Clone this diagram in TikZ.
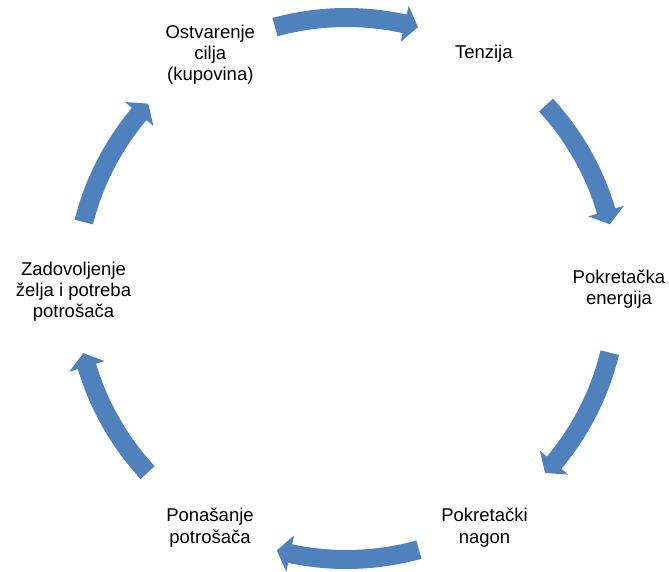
\documentclass[tikz,border=0pt]{standalone}
\usepackage{fontspec}
\setmainfont{Liberation Sans}
\definecolor{arrowblue}{RGB}{79,129,189}
\newcommand{\cyclearrow}[2]{%
  \fill[arrowblue] (#1:280.5pt) arc[start angle=#1, end angle={#2+2.9}, radius=280.5pt]
    -- ({#2+2.9}:289.5pt) -- (#2:271pt) -- ({#2+2.9}:252.5pt) -- ({#2+2.9}:261.5pt)
    arc[start angle={#2+2.9}, end angle=#1, radius=261.5pt] -- cycle;}
\tikzset{lbl/.style={align=center, inner sep=0pt, text=black,
  font=\fontsize{18.5}{21.3}\selectfont}}
\begin{document}
\begin{tikzpicture}[x=1pt,y=1pt]
\useasboundingbox (-346.5,-283.5) rectangle (322.5,288.5);
\cyclearrow{105.3}{74.7}
\cyclearrow{42.6}{13.7}
\cyclearrow{-13.7}{-42.9}
\cyclearrow{-74.5}{-104.9}
\cyclearrow{-137.2}{-166.2}
\cyclearrow{165.8}{137.0}
\node[lbl] (ostvarenje) at (-136.2,233.7) {Ostvarenje\\cilja\\(kupovina)};
\node[lbl] (tenzija) at (137.3,234.8) {Tenzija};
\node[lbl] (energija) at (272.5,-1.0) {Pokretačka\\energija};
\node[lbl] (nagon) at (138,-239.3) {Pokretački\\nagon};
\node[lbl] (ponasanje) at (-136.5,-239.3) {Ponašanje\\potrošača};
\node[lbl] (zadovoljenje) at (-273,-3.3) {Zadovoljenje\\želja i potreba\\potrošača};
\end{tikzpicture}
\end{document}
